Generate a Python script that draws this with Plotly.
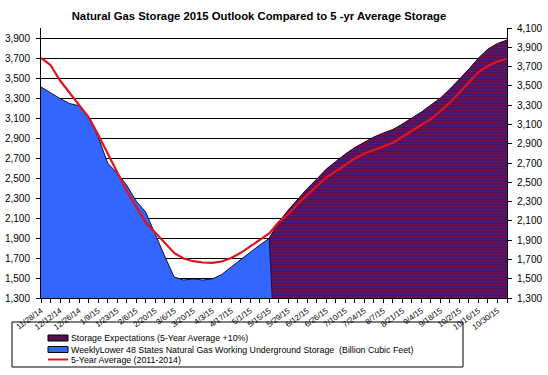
import plotly.graph_objects as go
import pandas as pd

# ---------------- data ----------------
week_labels = ["11/28/14", "12/5/14", "12/12/14", "12/19/14", "12/26/14", "1/2/15", "1/9/15", "1/16/15",
               "1/23/15", "1/30/15", "2/6/15", "2/13/15", "2/20/15", "2/27/15", "3/6/15", "3/13/15",
               "3/20/15", "3/27/15", "4/3/15", "4/10/15", "4/17/15", "4/24/15", "5/1/15", "5/8/15",
               "5/15/15", "5/22/15", "5/29/15", "6/5/15", "6/12/15", "6/19/15", "6/26/15", "7/3/15",
               "7/10/15", "7/17/15", "7/24/15", "7/31/15", "8/7/15", "8/14/15", "8/21/15", "8/28/15",
               "9/4/15", "9/11/15", "9/18/15", "9/25/15", "10/2/15", "10/9/15", "10/16/15", "10/23/15",
               "10/30/15", "11/6/15"]

# Weekly Lower 48 working gas (actual) - blank after 5/15/15 (Excel plots blank as zero)
weekly_storage = [3410, 3350, 3295, 3245, 3222, 3105, 2915, 2650, 2550, 2430, 2270, 2160, 1935, 1720,
                  1510, 1480, 1490, 1480, 1490, 1535, 1610, 1685, 1760, 1830, 1895, 0]

# Storage expectations (5-yr average +10%) starting 5/15/15
expect_start = 24
storage_expect = [1900, 2060, 2180, 2290, 2395, 2490, 2590, 2665, 2740, 2805, 2860, 2910, 2950, 2985,
                  3040, 3100, 3160, 3230, 3300, 3390, 3485, 3590, 3700, 3790, 3845, 3880]

# 5-year average (2011-2014)
five_yr_avg = [3700, 3630, 3475, 3350, 3235, 3110, 2935, 2740, 2560, 2375, 2210, 2055, 1955, 1855,
               1750, 1695, 1668, 1655, 1652, 1665, 1700, 1752, 1815, 1880, 1945, 2060, 2140, 2240,
               2335, 2420, 2505, 2570, 2635, 2695, 2745, 2778, 2815, 2852, 2910, 2968, 3025, 3090,
               3170, 3255, 3355, 3460, 3560, 3620, 3665, 3695]

left_ticks = list(range(1300, 4000, 200))
right_ticks = list(range(1300, 4200, 200))

title_text = "Natural Gas Storage 2015 Outlook Compared to 5 -yr Average Storage"
legend_names = ["Storage Expectations (5-Year Average +10%)",
                "WeeklyLower 48 States Natural Gas Working Underground Storage  (Billion Cubic Feet)",
                "5-Year Average (2011-2014)"]

# ---------------- figure ----------------
dates = pd.date_range("2014-11-28", periods=len(week_labels), freq="7D")

W, H = 548, 375
ML, MR, MT, MB = 41, 41, 28, 77
PW, PH = W - ML - MR, H - MT - MB

PURPLE = "#55104f"
BLUE = "#3366FF"
RED = "#E3121B"
FONT = "Liberation Sans, Arial, sans-serif"

fig = go.Figure()

fig.add_trace(go.Scatter(
    x=dates[expect_start:expect_start + len(storage_expect)], y=storage_expect,
    mode="lines", fill="tozeroy", name=legend_names[0],
    line=dict(color="#2a0018", width=1),
    fillcolor=PURPLE,
    fillpattern=dict(shape="-", bgcolor="#3d1670", fgcolor="#a8102c", size=3, solidity=0.5),
    showlegend=False, hoverinfo="skip"))

fig.add_trace(go.Scatter(
    x=dates[:len(weekly_storage)], y=weekly_storage,
    mode="lines", fill="tozeroy", name=legend_names[1],
    line=dict(color="#101040", width=1),
    fillcolor=BLUE, showlegend=False, hoverinfo="skip"))

fig.add_trace(go.Scatter(
    x=dates, y=five_yr_avg, mode="lines", name=legend_names[2],
    line=dict(color=RED, width=2.2), showlegend=False, hoverinfo="skip"))

fig.update_layout(
    width=W, height=H,
    margin=dict(l=ML, r=MR, t=MT, b=MB, pad=0, autoexpand=False),
    paper_bgcolor="white", plot_bgcolor="white",
    font=dict(family=FONT, color="black", size=10),
    title=dict(text="<b>" + title_text + "</b>", x=259 / W, xanchor="center",
               y=1 - 16 / H, yanchor="middle", font=dict(size=11.3, family=FONT)),
    xaxis=dict(
        range=[dates[0], dates[-1]], automargin=False,
        tickmode="array", tickvals=list(dates[::2]), ticktext=week_labels[::2],
        tickangle=-36, tickfont=dict(size=8), ticks="outside", ticklen=4, tickcolor="black",
        showgrid=False, showline=True, linecolor="black", linewidth=1, zeroline=False,
        minor=dict(ticks="outside", ticklen=4, tickcolor="black", dtick=7 * 86400000,
                   tick0=dates[0], showgrid=False),
    ),
    yaxis=dict(
        range=[1300, 4000], tickmode="array", tickvals=left_ticks, tickformat=",d",
        automargin=False,
        ticks="outside", ticklen=4, tickcolor="black", tickfont=dict(size=10),
        ticklabelstandoff=4,
        showgrid=True, gridcolor="black", gridwidth=1,
        showline=True, linecolor="black", linewidth=1, zeroline=False,
    ),
    yaxis2=dict(
        range=[1300, 4100], overlaying="y", side="right", tickmode="array", automargin=False,
        tickvals=right_ticks, tickformat=",d", ticks="outside", ticklen=4, tickcolor="black",
        tickfont=dict(size=10), showgrid=False, showline=True, linecolor="black", linewidth=1,
        zeroline=False, ticklabelstandoff=3,
    ),
)

# invisible trace so the secondary axis renders
fig.add_trace(go.Scatter(x=[dates[0]], y=[None], yaxis="y2", showlegend=False,
                         hoverinfo="skip", mode="lines"))


def px_x(px):
    return (px - ML) / PW


def px_y(py):
    return (H - MB - py) / PH


# manual legend box (Excel-style, compact rows)
shapes = [dict(type="rect", xref="paper", yref="paper",
               x0=px_x(12), x1=px_x(463), y0=px_y(367), y1=px_y(322),
               line=dict(color="black", width=1), fillcolor="rgba(0,0,0,0)")]
rows_y = [338, 349.5, 359.5]
shapes.append(dict(type="rect", xref="paper", yref="paper", x0=px_x(48), x1=px_x(68),
                   y0=px_y(rows_y[0] + 3), y1=px_y(rows_y[0] - 3),
                   line=dict(color="black", width=1), fillcolor=PURPLE))
shapes.append(dict(type="rect", xref="paper", yref="paper", x0=px_x(48), x1=px_x(68),
                   y0=px_y(rows_y[1] + 3), y1=px_y(rows_y[1] - 3),
                   line=dict(color="black", width=1), fillcolor=BLUE))
shapes.append(dict(type="line", xref="paper", yref="paper", x0=px_x(48), x1=px_x(68),
                   y0=px_y(rows_y[2]), y1=px_y(rows_y[2]),
                   line=dict(color=RED, width=2)))
fig.update_layout(shapes=shapes)

for name, ry in zip(legend_names, rows_y):
    fig.add_annotation(text=name, xref="paper", yref="paper", x=px_x(69), y=px_y(ry),
                       xanchor="left", yanchor="middle", showarrow=False,
                       font=dict(size=8.8, family=FONT))

# remove the browser's default 8px body margin so the figure sits at the page origin
fig.write_html("out.html", config={"displayModeBar": False},
               post_script="document.body.style.margin='0px';")
